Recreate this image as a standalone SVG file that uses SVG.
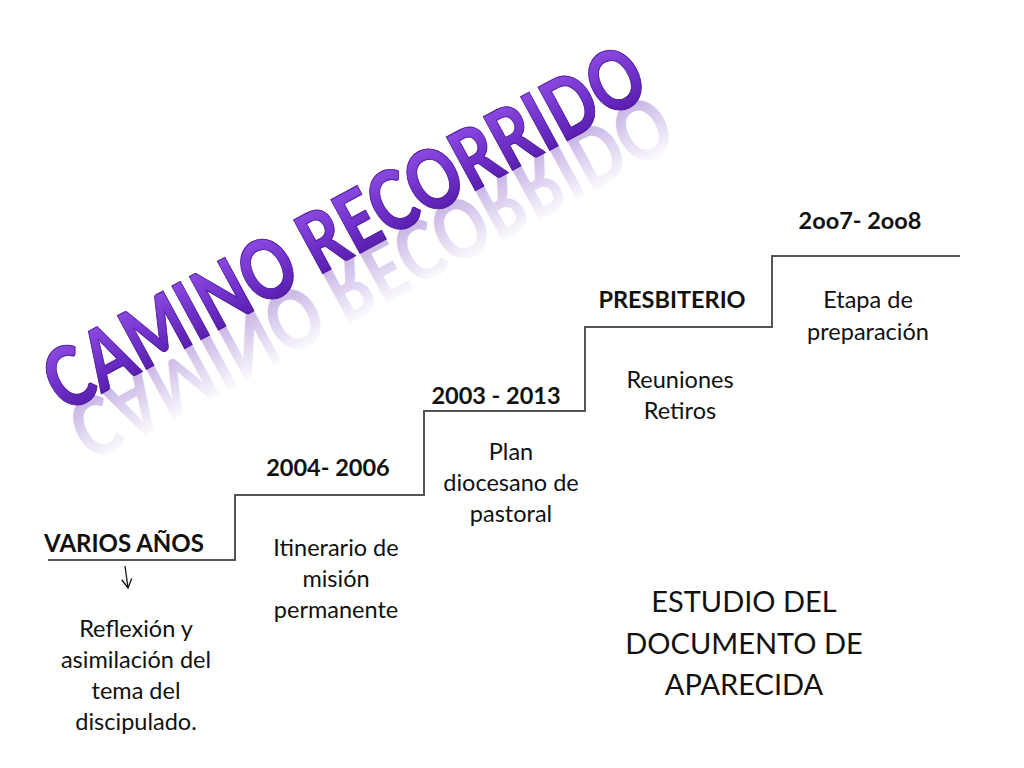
<svg xmlns="http://www.w3.org/2000/svg" width="1024" height="768" viewBox="0 0 1024 768">
<defs>
<style>
.t{font-family:Lato,"Open Sans","Liberation Sans",sans-serif;font-size:23.5px;fill:#111;text-anchor:middle}
.b{font-weight:bold}
.big{font-size:29px}
.title{font-family:Lato,"Open Sans","Liberation Sans",sans-serif;font-weight:900;font-size:84px}
</style>
<linearGradient id="tg" x1="0" y1="-62" x2="0" y2="0" gradientUnits="userSpaceOnUse">
<stop offset="0" stop-color="#8a4ae0"/>
<stop offset="0.5" stop-color="#7232cc"/>
<stop offset="1" stop-color="#5a1fb0"/>
</linearGradient>
<linearGradient id="rg" x1="0" y1="0" x2="0" y2="-62" gradientUnits="userSpaceOnUse">
<stop offset="0" stop-color="#8a60c8" stop-opacity="0.45"/>
<stop offset="1" stop-color="#8a60c8" stop-opacity="0"/>
</linearGradient>
<marker id="ah" markerWidth="12" markerHeight="12" refX="10" refY="6" orient="auto" markerUnits="userSpaceOnUse">
<path d="M1,1 L10,6 L1,11" fill="none" stroke="#111" stroke-width="1.3"/>
</marker>
</defs>
<rect width="1024" height="768" fill="#fff"/>

<g id="title" transform="translate(64,414) rotate(-28.5)">
<text class="title" x="0" y="4" transform="scale(1,-1)" fill="url(#rg)" textLength="670" lengthAdjust="spacingAndGlyphs">CAMINO RECORRIDO</text>
<text class="title" x="0" y="0" fill="url(#tg)" stroke="#4a1590" stroke-width="1" textLength="670" lengthAdjust="spacingAndGlyphs">CAMINO RECORRIDO</text>
</g>

<g id="connectors">
<path d="M48,560 H235 V495 H424 V411 H585 V327 H772 V256 H960" fill="none" stroke="#555" stroke-width="2"/>
<path d="M125,566 L128,588" fill="none" stroke="#111" stroke-width="1.3" marker-end="url(#ah)"/>
</g>

<g id="step1">
<text class="t b" x="124" y="552" style="font-size:24px">VARIOS AÑOS</text>
<text class="t" x="136" y="637">Reflexión y</text>
<text class="t" x="136" y="668">asimilación del</text>
<text class="t" x="136" y="699">tema del</text>
<text class="t" x="136" y="730">discipulado.</text>
</g>
<g id="step2">
<text class="t b" x="328" y="476">2004- 2006</text>
<text class="t" x="336" y="556">Itinerario de</text>
<text class="t" x="336" y="587">misión</text>
<text class="t" x="336" y="618">permanente</text>
</g>
<g id="step3">
<text class="t b" x="496" y="404">2003 - 2013</text>
<text class="t" x="511" y="460">Plan</text>
<text class="t" x="511" y="491">diocesano de</text>
<text class="t" x="511" y="522">pastoral</text>
</g>
<g id="step4">
<text class="t b" x="672" y="308">PRESBITERIO</text>
<text class="t" x="680" y="388">Reuniones</text>
<text class="t" x="680" y="419">Retiros</text>
</g>
<g id="step5">
<text class="t b" x="860" y="229">2oo7- 2oo8</text>
<text class="t" x="868" y="308">Etapa de</text>
<text class="t" x="868" y="340">preparación</text>
</g>
<g id="estudio">
<text class="t big" x="744" y="612">ESTUDIO DEL</text>
<text class="t big" x="744" y="654">DOCUMENTO DE</text>
<text class="t big" x="744" y="695">APARECIDA</text>
</g>
</svg>
